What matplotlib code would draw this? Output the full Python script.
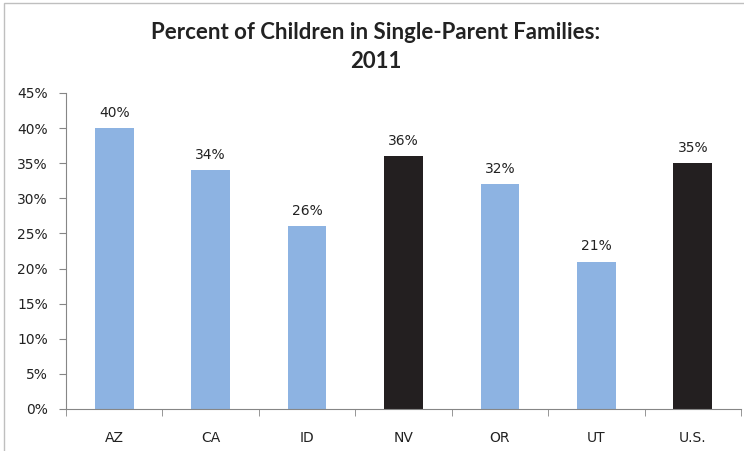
import matplotlib
matplotlib.use("Agg")
import matplotlib.pyplot as plt
from matplotlib.ticker import FuncFormatter, FixedLocator
from matplotlib.patches import Rectangle

states = ["AZ", "CA", "ID", "NV", "OR", "UT", "U.S."]
percents = [40, 34, 26, 36, 32, 21, 35]
bar_colors = ["#8DB3E2", "#8DB3E2", "#8DB3E2", "#231F20", "#8DB3E2", "#8DB3E2", "#231F20"]

plt.rcParams['font.family'] = ['DejaVu Sans']

fig = plt.figure(figsize=(7.44, 4.51), dpi=100)
ax = fig.add_axes([66/744, 1 - 409/451, 675/744, 316/451])

x = list(range(len(states)))
ax.bar(x, percents, width=0.4, color=bar_colors)

for xi, v in zip(x, percents):
    ax.text(xi, v + 1.2, f"{v}%", ha="center", va="bottom", fontsize=10, color="#222222")

ax.set_xlim(-0.5, len(states) - 0.5)
ax.set_ylim(0, 45)
ax.set_yticks(range(0, 50, 5))
ax.yaxis.set_major_formatter(FuncFormatter(lambda v, p: f"{int(v)}%"))
ax.set_xticks(x)
ax.set_xticklabels(states)
ax.tick_params(axis="x", length=0, labelsize=10, pad=16, colors="#222222")
ax.xaxis.set_minor_locator(FixedLocator([i - 0.5 for i in range(len(states) + 1)]))
ax.tick_params(axis="x", which="minor", length=5, color="#868686")
ax.tick_params(axis="y", length=5, color="#868686", labelsize=10, labelcolor="#222222", pad=8)

for s in ["top", "right"]:
    ax.spines[s].set_visible(False)
for s in ["left", "bottom"]:
    ax.spines[s].set_color("#868686")
    ax.spines[s].set_linewidth(0.8)

fig.text(376/744, 1 - 47/451, "Percent of Children in Single-Parent Families:\n2011",
         ha="center", va="center", fontsize=16, fontweight="bold", color="#222222",
         linespacing=1.45, family=["Lato", "DejaVu Sans"])

# outer chart border
fig.patches.append(Rectangle((4/744, -0.1), 1.2, 1 - 3/451 + 0.1, transform=fig.transFigure,
                             fill=False, edgecolor="#BFBFBF", linewidth=1))

fig.savefig("out.png", dpi=100)
